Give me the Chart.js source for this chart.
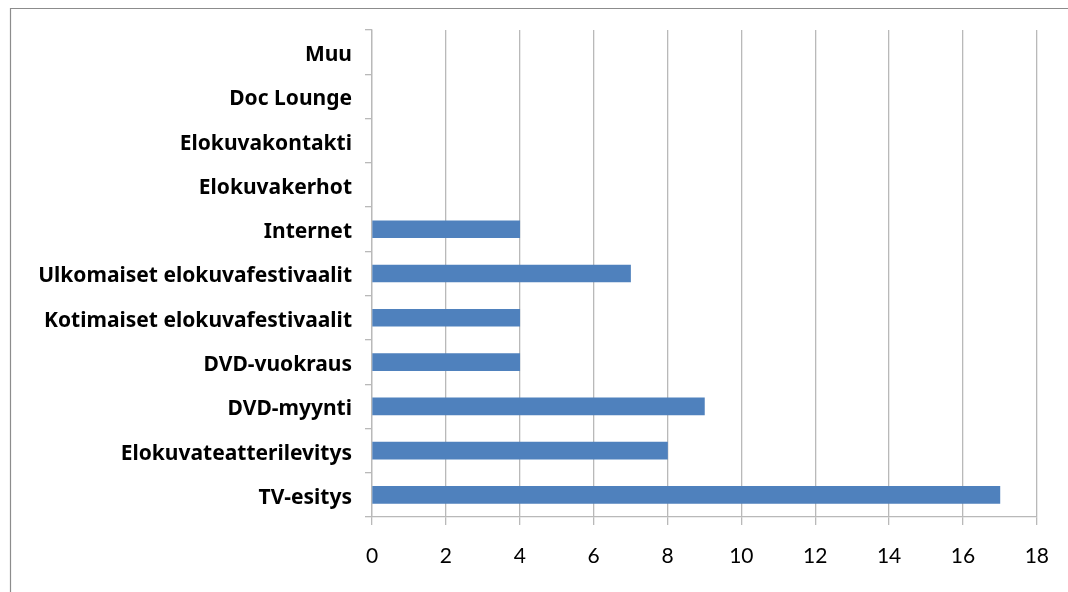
<!DOCTYPE html>
<html>
<head>
<meta charset="utf-8">
<script src="https://cdn.jsdelivr.net/npm/chart.js@4"></script>
<style>
html,body{margin:0;padding:0;background:#fff;}
#wrap{position:relative;width:1068px;height:592px;}
</style>
</head>
<body>
<div id="wrap"><canvas id="c" width="1068" height="592"></canvas></div>
<script>
const categories = ["Muu","Doc Lounge","Elokuvakontakti","Elokuvakerhot","Internet","Ulkomaiset elokuvafestivaalit","Kotimaiset elokuvafestivaalit","DVD-vuokraus","DVD-myynti","Elokuvateatterilevitys","TV-esitys"];
const values = [0,0,0,0,4,7,4,4,9,8,17];
const xTicks = [0,2,4,6,8,10,12,14,16,18];

const LABEL_FONT = "'Noto Sans', Lato, sans-serif";
const TICK_FONT = "Lato, 'Open Sans', sans-serif";
const gridColor = "#b9b9b9";

const borderPlugin = {
  id: "outerBorder",
  beforeDraw(chart) {
    const ctx = chart.ctx;
    ctx.save();
    ctx.fillStyle = "#fff";
    ctx.fillRect(0,0,chart.width,chart.height);
    ctx.strokeStyle = "#8c8c8c";
    ctx.lineWidth = 1.2;
    ctx.beginPath();
    ctx.moveTo(10.5, chart.height + 2);
    ctx.lineTo(10.5, 8.5);
    ctx.lineTo(chart.width + 2, 8.5);
    ctx.stroke();
    ctx.restore();
  }
};

new Chart(document.getElementById("c"), {
  type: "bar",
  data: {
    labels: categories,
    datasets: [{
      data: values,
      backgroundColor: ctx => (ctx.raw > 0 ? "#4f81bd" : "rgba(0,0,0,0)"),
      borderWidth: 0,
      barThickness: 17
    }]
  },
  options: {
    indexAxis: "y",
    responsive: false,
    animation: false,
    layout: { padding: { left: 0, top: 30, right: 29, bottom: 0 } },
    plugins: { legend: { display: false }, tooltip: { enabled: false } },
    scales: {
      x: {
        min: 0, max: 18,
        afterBuildTicks(scale) { scale.ticks = xTicks.map(v => ({ value: v })); },
        afterFit(scale) { scale.height = 75; },
        grid: { color: gridColor, lineWidth: 1.3, tickLength: 8, drawTicks: true },
        border: { color: gridColor, width: 1.3 },
        ticks: { color: "#000", font: { family: TICK_FONT, size: 21 }, padding: 19 }
      },
      y: {
        afterFit(scale) { scale.width = 372; },
        grid: { drawOnChartArea: false, offset: true, color: gridColor, lineWidth: 1.3, tickLength: 7 },
        border: { color: gridColor, width: 1.3 },
        ticks: { color: "#000", font: { family: LABEL_FONT, size: 21, weight: "bold" }, padding: 13, labelOffset: 3 }
      }
    }
  },
  plugins: [borderPlugin]
});
</script>
</body>
</html>
